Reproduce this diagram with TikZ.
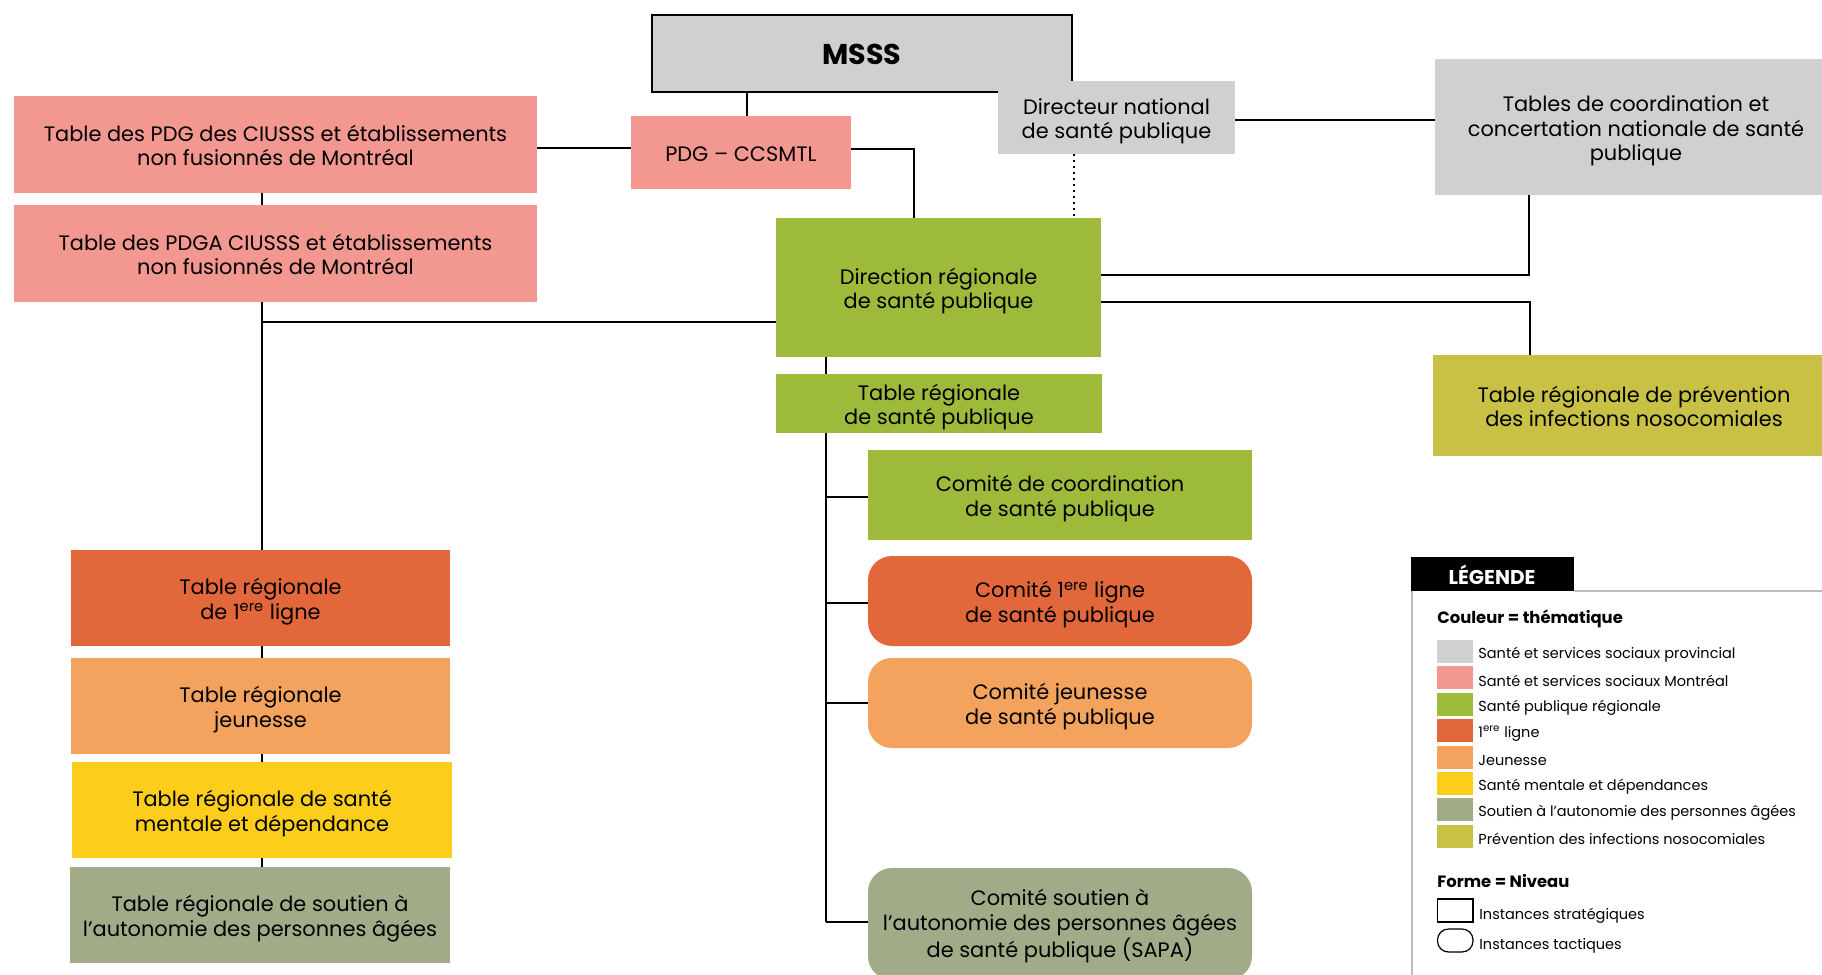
\documentclass[tikz,border=0pt]{standalone}
\usepackage{fontspec}
\setmainfont{Poppins}
\definecolor{cgray}{HTML}{D0D0D0}
\definecolor{cpink}{HTML}{F29891}
\definecolor{cgreen}{HTML}{9DBA3B}
\definecolor{cred}{HTML}{E2673A}
\definecolor{corange}{HTML}{F4A35F}
\definecolor{cyellow}{HTML}{FCCE1B}
\definecolor{csage}{HTML}{A1AB87}
\definecolor{colive}{HTML}{C8C145}
\definecolor{cframe}{HTML}{BDBDBD}
\pgfdeclarelayer{bg}
\pgfsetlayers{bg,main}
\begin{document}
\begin{tikzpicture}[x=0.5pt,y=-0.5pt,
  rect/.style n args={4}{minimum width={(#3-#1)*0.5pt}, minimum height={(#4-#2)*0.5pt},
       at={({(#1+#3)/2},{(#2+#4)/2})}},
  box/.style={inner sep=0pt, outer sep=0pt, align=center, font=\fontsize{10.45}{12.2}\selectfont,
       text height=21pt, text depth=0pt},
  three/.style={text height=33.4pt},
  tact/.style={box, rounded corners=12pt},
  link/.style={line width=1pt, black},
  legtxt/.style={anchor=west, inner sep=0pt, font=\fontsize{7.25}{9}\selectfont},
  legtitle/.style={anchor=west, inner sep=0pt, font=\bfseries\fontsize{8.2}{10}\selectfont},
]
\useasboundingbox (0,0) rectangle (1822,975);
\clip (0,0) rectangle (1822,975);

% top boxes
\node[box, fill=cgray, draw=black, line width=1.3pt, rect={652}{15}{1072}{92},
      font=\bfseries\fontsize{14.3}{16}\selectfont, text height=11.2pt] (msss) {MSSS};
\node[box, fill=cgray, rect={998}{81}{1235}{154}] (dir) {Directeur national\\de santé publique};
\node[box, three, fill=cgray, rect={1435}{59}{1837}{195}] (tables) {Tables de coordination et\\concertation nationale de santé\\publique};
\node[box, fill=cpink, rect={14}{96}{537}{193}] (pdg) {Table des PDG des CIUSSS et établissements\\non fusionnés de Montréal};
\node[box, fill=cpink, rect={14}{205}{537}{302}] (pdga) {Table des PDGA CIUSSS et établissements\\non fusionnés de Montréal};
\node[box, fill=cpink, rect={631}{116}{851}{189}, text height=8.5pt] (ccsmtl) {PDG -- CCSMTL};
\node[box, fill=cgreen, rect={776}{218}{1101}{357}] (drsp) {Direction régionale\\de santé publique};
\node[box, fill=cgreen, rect={776}{374}{1102}{433}] (trsp) {Table régionale\\de santé publique};
\node[box, fill=colive, rect={1433}{355}{1835}{456}] (prev) {Table régionale de prévention\\des infections nosocomiales};

% left column
\node[box, fill=cred, rect={71}{550}{450}{646}] (t1) {Table régionale\\de 1\textsuperscript{ere} ligne};
\node[box, fill=corange, rect={71}{658}{450}{754}] (tj) {Table régionale\\jeunesse};
\node[box, fill=cyellow, rect={72}{762}{452}{858}] (tm) {Table régionale de santé\\mentale et dépendance};
\node[box, fill=csage, rect={70}{867}{450}{963}] (ts) {Table régionale de soutien à\\l’autonomie des personnes âgées};

% right column
\node[box, fill=cgreen, rect={868}{450}{1252}{540}] (ccoord) {Comité de coordination\\de santé publique};
\node[tact, fill=cred, rect={868}{556}{1252}{646}] (c1) {Comité 1\textsuperscript{ere} ligne\\de santé publique};
\node[tact, fill=corange, rect={868}{658}{1252}{748}] (cj) {Comité jeunesse\\de santé publique};
\node[tact, three, fill=csage, rect={868}{868}{1252}{980}] (cs) {Comité soutien à\\l’autonomie des personnes âgées\\de santé publique (SAPA)};

% connectors
\begin{pgfonlayer}{bg}
\fill[white] (0,0) rectangle (1822,975);
\draw[link] ([xshift=3pt]ccsmtl.north) -- ([xshift=3pt]ccsmtl.north |- msss.south);
\coordinate (p1) at ([yshift=-1.75pt]pdg.east);
\draw[link] (p1) -- (p1 -| ccsmtl.west);
\coordinate (p2) at ([yshift=2pt]ccsmtl.east);
\coordinate (d1) at ([xshift=69pt]drsp.north west);
\draw[link] (p2) -| (d1);
\coordinate (p3) at ([yshift=-1.25pt]dir.east);
\draw[link] (p3) -- (p3 -| tables.west);
\coordinate (p4) at ([xshift=-21.25pt]dir.south);
\draw[line width=1pt, dotted] (p4) -- (p4 |- drsp.north);
\coordinate (p5) at ([yshift=6.25pt]drsp.east);
\draw[link] (p5) -| ([xshift=-53.5pt]tables.south);
\coordinate (p6) at ([yshift=-7.25pt]drsp.east);
\draw[link] (p6) -| ([xshift=-52pt]prev.north);
\coordinate (vL) at ([xshift=-6.75pt]pdg.south);
\draw[link] (vL) -- (vL |- ts.north);
\coordinate (h1) at ([yshift=-17.25pt]drsp.west);
\draw[link] (h1) -- (h1 -| vL);
\coordinate (vR) at ([xshift=-56.25pt]drsp.south);
\coordinate (sapaY) at ([yshift=1pt]cs.west);
\draw[link] (vR) -- (vR |- sapaY);
\draw[link] ([yshift=-1pt]vR |- ccoord.west) -- ([yshift=-1pt]ccoord.west);
\draw[link] ([yshift=-1.2pt]vR |- c1.west) -- ([yshift=-1.2pt]c1.west);
\draw[link] (vR |- cj.west) -- (cj.west);
\draw[link] (vR |- sapaY) -- (sapaY);
\end{pgfonlayer}

% legend
\draw[cframe, line width=0.7pt] (1412,591) -- (1412,975);
\draw[cframe, line width=0.7pt] (1574,591) -- (1822,591);
\node[fill=black, inner sep=0pt, rect={1411}{557}{1574}{591}] (legbox) {};
\node[text=white, inner sep=0pt, font=\bfseries\fontsize{10}{11}\selectfont] (legtitle) at (1492,575) {LÉGENDE};
\node[legtitle] (legc) at (1437,619) {Couleur = thématique};
\foreach \i/\c/\t in {0/cgray/Santé et services sociaux provincial,
                      1/cpink/Santé et services sociaux Montréal,
                      2/cgreen/Santé publique régionale,
                      3/cred/{1\textsuperscript{ere} ligne},
                      4/corange/Jeunesse,
                      5/cyellow/Santé mentale et dépendances,
                      6/csage/Soutien à l’autonomie des personnes âgées,
                      7/colive/Prévention des infections nosocomiales}{
  \fill[\c] (1437,640+26.4*\i) rectangle (1473,663+26.4*\i);
  \node[legtxt] (leg\i) at (1478,654.5+26.4*\i) {\t};
}
\node[legtitle] (legf) at (1437,881) {Forme = Niveau};
\draw[black, line width=0.6pt] (1437.5,899) rectangle (1473,922);
\node[legtxt] (legs) at (1479,915.5) {Instances stratégiques};
\draw[black, line width=0.6pt, rounded corners=5.5pt] (1437.5,929) rectangle (1473,952);
\node[legtxt] (legt) at (1479,945.5) {Instances tactiques};
\end{tikzpicture}
\end{document}
